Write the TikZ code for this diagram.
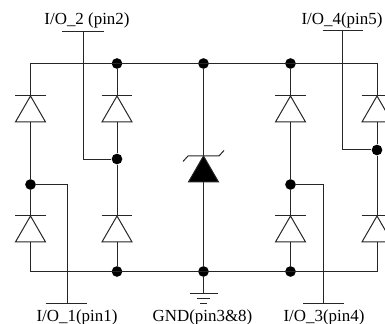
\documentclass[tikz,border=0pt]{standalone}
\usepackage{fontspec}
\setmainfont{Liberation Serif}
\usepackage{tikz}
\usetikzlibrary{shapes.geometric}

\begin{document}
\begin{tikzpicture}[
    x=0.75pt, y=-0.75pt,
    wire/.style={draw, line width=0.75pt, color=black!85},
    junction/.style={circle, fill=black, inner sep=0pt, minimum size=8pt},
    diode/.style={regular polygon, regular polygon sides=3, draw, line width=0.75pt, color=black!85, inner sep=0pt, outer sep=0pt, minimum size=26pt},
    zener/.style={diode, fill=black},
    pinlabel/.style={inner sep=0pt, font=\fontsize{12.7pt}{14pt}\selectfont}
]

\useasboundingbox (0,0) rectangle (385,324);
\clip (0,0) rectangle (385,324);

% Define wire corners
\coordinate (TL) at (30.5,63.5);
\coordinate (TR) at (377,63.5);
\coordinate (BL) at (30.5,271.5);
\coordinate (BR) at (377,271.5);

% Define junctions
\node[junction] (T2) at (117,63.5) {};
\node[junction] (T3) at (203.5,63.5) {};
\node[junction] (T4) at (290.5,63.5) {};
\node[junction] (B2) at (117,271.5) {};
\node[junction] (B3) at (203.5,271.5) {};
\node[junction] (B4) at (290.5,271.5) {};
\node[junction] (M1) at (30.5,184.5) {};
\node[junction] (M2) at (117,159) {};
\node[junction] (M4) at (290.5,184.5) {};
\node[junction] (M5) at (377,150) {};

% Define diodes
\node[diode] (D1) at (30.5,113.3) {};
\node[diode] (D2) at (117,113.3) {};
\node[diode] (D3) at (290.5,113.3) {};
\node[diode] (D4) at (377,113.3) {};
\node[diode] (D5) at (30.5,233.3) {};
\node[diode] (D6) at (117,233.3) {};
\node[diode] (D7) at (290.5,233.3) {};
\node[diode] (D8) at (377,233.3) {};
\node[zener] (Z) at (203.5,173.3) {};

% Add pin labels
\node[pinlabel] (L2) at (87,20.5) {I/O\_2 (pin2)};
\node[pinlabel] (L4) at (342,20.5) {I/O\_4(pin5)};
\node[pinlabel] (L1) at (77,317) {I/O\_1(pin1)};
\node[pinlabel] (LG) at (202.5,317) {GND(pin3\&8)};
\node[pinlabel] (L3) at (324,317) {I/O\_3(pin4)};

% Add pin stems
\coordinate (P2) at (83,32);
\coordinate (P4) at (342.5,31);
\coordinate (P1) at (67,303);
\coordinate (P3) at (323,303);
\coordinate (G) at (203.5,293.5);

% Draw rails
\draw[wire] (TL) -- (TR);
\draw[wire] (BL) -- (BR);

% Draw diode columns
\draw[wire] (TL) -- (D1.corner 1);
\draw[wire] (D1.south) -- (M1);
\draw[wire] (M1) -- (D5.corner 1);
\draw[wire] (D5.south) |- (BL);
\draw[wire] (T2) -- (D2.corner 1);
\draw[wire] (D2.south) -- (M2);
\draw[wire] (M2) -- (D6.corner 1);
\draw[wire] (D6.south) -- (B2);
\draw[wire] (T3) -- (Z.corner 1);
\draw[wire] (Z.south) -- (B3);
\draw[wire] (T4) -- (D3.corner 1);
\draw[wire] (D3.south) -- (M4);
\draw[wire] (M4) -- (D7.corner 1);
\draw[wire] (D7.south) -- (B4);
\draw[wire] (TR) -- (D4.corner 1);
\draw[wire] (D4.south) -- (M5);
\draw[wire] (M5) -- (D8.corner 1);
\draw[wire] (D8.south) -- (BR);

% Draw diode bars
\draw[wire] ([xshift=-11.5pt]D1.corner 1) -- ([xshift=11.5pt]D1.corner 1);
\draw[wire] ([xshift=-11.5pt]D2.corner 1) -- ([xshift=11.5pt]D2.corner 1);
\draw[wire] ([xshift=-11.5pt]D3.corner 1) -- ([xshift=11.5pt]D3.corner 1);
\draw[wire] ([xshift=-11.5pt]D4.corner 1) -- ([xshift=11.5pt]D4.corner 1);
\draw[wire] ([xshift=-11.5pt]D5.corner 1) -- ([xshift=11.5pt]D5.corner 1);
\draw[wire] ([xshift=-11.5pt]D6.corner 1) -- ([xshift=11.5pt]D6.corner 1);
\draw[wire] ([xshift=-11.5pt]D7.corner 1) -- ([xshift=11.5pt]D7.corner 1);
\draw[wire] ([xshift=-11.5pt]D8.corner 1) -- ([xshift=11.5pt]D8.corner 1);
\draw[wire] ([shift={(-20.5,5.5)}]Z.corner 1) -- ([shift={(-15.5,0)}]Z.corner 1) -- ([shift={(15.5,0)}]Z.corner 1) -- ([shift={(20.5,-5.5)}]Z.corner 1);

% Draw pin connections
\draw[wire] (P2) |- (M2);
\draw[wire] (P4) |- (M5);
\draw[wire] (M1) -| (P1);
\draw[wire] (M4) -| (P3);
\draw[wire] ([xshift=-15.5pt]P2) -- ([xshift=15.5pt]P2);
\draw[wire] ([xshift=-15pt]P4) -- ([xshift=15pt]P4);
\draw[wire] ([xshift=-16pt]P1) -- ([xshift=15pt]P1);
\draw[wire] ([xshift=-15pt]P3) -- ([xshift=16pt]P3);

% Draw ground symbol
\draw[wire] (B3) -- (G);
\draw[wire] ([xshift=-10.5pt]G) -- ([xshift=10.5pt]G);
\draw[wire] ([shift={(-6.5,5)}]G) -- ([shift={(6.5,5)}]G);
\draw[wire] ([shift={(-3.5,9.5)}]G) -- ([shift={(3.5,9.5)}]G);

\end{tikzpicture}
\end{document}
